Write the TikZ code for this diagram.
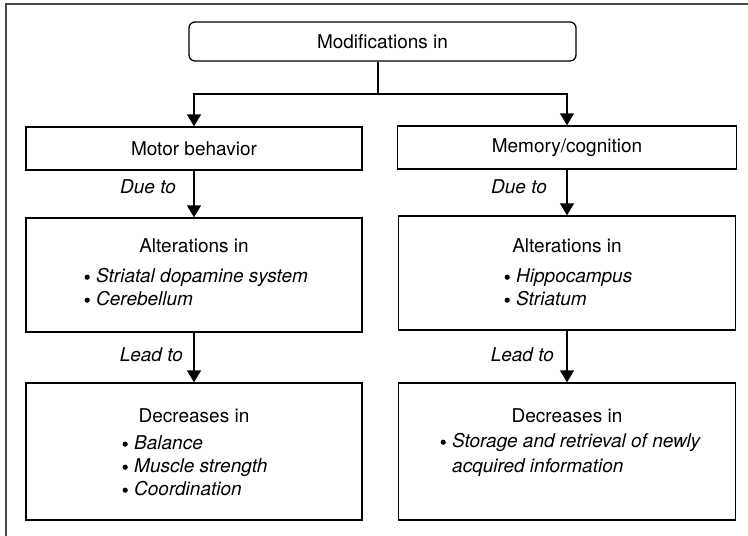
\documentclass[tikz,border=0pt]{standalone}
\usepackage{fontspec}
\setmainfont{TeX Gyre Heros}
\usetikzlibrary{arrows.meta}
% round list bullet followed by the gap before the item text
\newcommand{\itembullet}{\makebox[14pt][l]{\hspace{2.4pt}\tikz[baseline=0pt]\fill (2.6pt,4.8pt) circle[radius=2.6pt];}}
\begin{document}
\begin{tikzpicture}[x=1pt,y=-1pt,
  every node/.style={font=\fontsize{19}{23}\selectfont},
  box/.style={draw, line width=1.3pt, inner sep=0pt, rectangle},
  roundbox/.style={box, rounded corners=6pt},
  txt/.style={inner sep=0pt, text height=14pt, text depth=4pt},
  lbl/.style={txt, font=\fontsize{19}{23}\selectfont\itshape, anchor=east},
  item/.style={txt, anchor=west},
  link/.style={line width=1.3pt, -{Triangle[width=14pt,length=12pt]}},
  wire/.style={line width=1.3pt},
]
\useasboundingbox (0,0) rectangle (748,536);
% outer frame, running off the right and bottom edges
\begin{scope}
  \clip (0,0) rectangle (748,536);
  \draw[line width=2.2pt, draw=black!72] (6,4) rectangle (770,560);
\end{scope}

% boxes
\node[roundbox, minimum width=387pt, minimum height=39pt] (top) at (382.5,41.5) {Modifications in};
\node[box, minimum width=336pt, minimum height=43pt] (motor) at (194,148.5) {Motor behavior};
\node[box, minimum width=339pt, minimum height=43pt] (memory) at (567,147.5) {Memory/cognition};
\node[box, minimum width=336pt, minimum height=114pt] (altL) at (194,275) {};
\node[box, minimum width=337pt, minimum height=114pt] (altR) at (567,273) {};
\node[box, minimum width=336pt, minimum height=137pt] (decL) at (194,451.5) {};
\node[box, minimum width=337pt, minimum height=137pt] (decR) at (567,451.5) {};

% box contents
\node[txt] (altLh) at (194,247) {Alterations in};
\node[item] (altL1) at (82,277) {\itembullet\textit{Striatal dopamine system}};
\node[item] (altL2) at (82,300) {\itembullet\textit{Cerebellum}};

\node[txt] (altRh) at (567,247) {Alterations in};
\node[item] (altR1) at (502,277) {\itembullet\textit{Hippocampus}};
\node[item] (altR2) at (502,300) {\itembullet\textit{Striatum}};

\node[txt] (decLh) at (194,417) {Decreases in};
\node[item] (decL1) at (120,444) {\itembullet\textit{Balance}};
\node[item] (decL2) at (120,467) {\itembullet\textit{Muscle strength}};
\node[item] (decL3) at (120,490) {\itembullet\textit{Coordination}};

\node[txt] (decRh) at (567,417) {Decreases in};
\node[item] (decR1) at (438,442) {\itembullet\textit{Storage and retrieval of newly}};
\node[item] (decR2) at (452,467) {\textit{acquired information}};

% connectors
\coordinate (split) at (378,94);
\draw[wire] (top.south -| split) -- (split);
\draw[link] (split) -| (motor.north);
\draw[link] (split) -| (memory.north);

\draw[link] (motor.south) -- (altL.north);
\draw[link] (memory.south) -- (altR.north);
\draw[link] (altL.south) -- (decL.north);
\draw[link] (altR.south) -- (decR.north);

\node[lbl] (dueL) at (176,188) {Due to};
\node[lbl] (dueR) at (547,188) {Due to};
\node[lbl] (leadL) at (183,356) {Lead to};
\node[lbl] (leadR) at (554,356) {Lead to};
\end{tikzpicture}
\end{document}
